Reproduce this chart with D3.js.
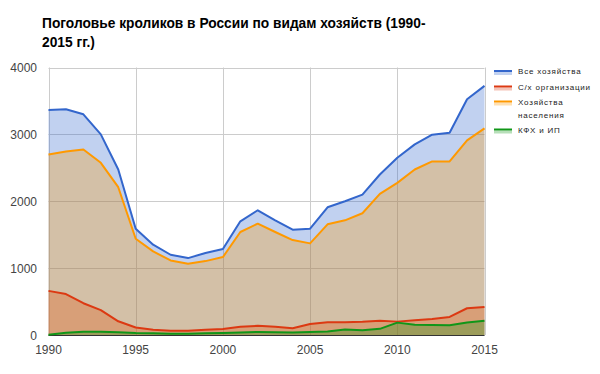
<!DOCTYPE html>
<html>
<head>
<meta charset="utf-8">
<script src="https://cdn.jsdelivr.net/npm/d3@7"></script>
<style>
  body { margin: 0; background: #fff; }
  text { font-family: Arial, "Liberation Sans", sans-serif; }
</style>
</head>
<body>
<div class="canvas"></div>
<script>
const years = d3.range(1990, 2016);

// поголовье, тыс. голов
const allFarms = [3365, 3375, 3300, 3000, 2475, 1590, 1350, 1200, 1150, 1225, 1285, 1700, 1865,
  1715, 1575, 1590, 1910, 2000, 2100, 2400, 2650, 2850, 2995, 3025, 3525, 3725];
const agroOrgs = [660, 612, 475, 372, 205, 112, 80, 65, 65, 78, 88, 122, 138,
  125, 100, 165, 190, 190, 198, 212, 200, 222, 240, 270, 400, 420];
const households = [2700, 2745, 2775, 2575, 2210, 1440, 1250, 1115, 1065, 1105, 1165, 1540, 1665,
  1540, 1420, 1370, 1655, 1715, 1820, 2110, 2275, 2475, 2595, 2595, 2910, 3090];
const kfh = [5, 32, 48, 48, 42, 30, 25, 20, 20, 25, 30, 38, 45,
  42, 38, 43, 52, 82, 72, 92, 185, 155, 148, 145, 188, 212];

const seriesNames = ["Все хозяйства", "С/х организации", "Хозяйства\nнаселения", "КФХ и ИП"];
const seriesColors = ["#3366cc", "#dc3912", "#ff9900", "#109618"];
const yTicks = [0, 1000, 2000, 3000, 4000];
const xTicks = [1990, 1995, 2000, 2005, 2010, 2015];

const series = [allFarms, agroOrgs, households, kfh].map((vals, i) => ({
  name: seriesNames[i],
  color: seriesColors[i],
  values: vals.map((v, j) => ({ year: years[j], v: v }))
}));

const svg = d3.select(".canvas").append("svg").attr("width", 600).attr("height", 374);

const x = d3.scaleLinear().domain([1990, 2015]).range([48.5, 484.5]);
const y = d3.scaleLinear().domain([0, 4000]).range([335, 67.5]);

// title
const title = svg.append("text")
  .attr("x", 42).attr("y", 27.5)
  .attr("font-size", 13.75).attr("font-weight", "bold").attr("fill", "#000");
title.append("tspan").attr("x", 42).attr("y", 27.5).text("Поголовье кроликов в России по видам хозяйств (1990-");
title.append("tspan").attr("x", 42).attr("y", 47).text("2015 гг.)");

// gridlines
svg.append("g").selectAll("line").data(yTicks).join("line")
  .attr("x1", x(1990)).attr("x2", x(2015))
  .attr("y1", d => Math.round(y(d)) + 0.5).attr("y2", d => Math.round(y(d)) + 0.5)
  .attr("stroke", "#cccccc");
svg.append("g").selectAll("line").data(xTicks).join("line")
  .attr("x1", d => Math.round(x(d)) + 0.5).attr("x2", d => Math.round(x(d)) + 0.5)
  .attr("y1", y(4000)).attr("y2", y(0))
  .attr("stroke", "#cccccc");

// axis labels
svg.append("g").selectAll("text").data(yTicks).join("text")
  .attr("x", 37).attr("y", d => y(d) + 4.5)
  .attr("text-anchor", "end").attr("font-size", 12).attr("fill", "#444")
  .text(d => d);
svg.append("g").selectAll("text").data(xTicks).join("text")
  .attr("x", d => x(d)).attr("y", 354)
  .attr("text-anchor", "middle").attr("font-size", 12).attr("fill", "#444")
  .text(d => d);

const area = d3.area().x(d => x(d.year)).y0(y(0)).y1(d => y(d.v));
const line = d3.line().x(d => x(d.year)).y(d => y(d.v));

// areas
svg.append("g").selectAll("path").data(series).join("path")
  .attr("d", d => area(d.values))
  .attr("fill", d => d.color).attr("fill-opacity", 0.3);

// baseline
svg.append("line")
  .attr("x1", x(1990)).attr("x2", x(2015))
  .attr("y1", y(0) + 0.5).attr("y2", y(0) + 0.5)
  .attr("stroke", "#333");

// lines
svg.append("g").selectAll("path").data(series).join("path")
  .attr("d", d => line(d.values))
  .attr("fill", "none").attr("stroke", d => d.color).attr("stroke-width", 2)
  .attr("stroke-linejoin", "round");

// legend
const legendY = [71, 86.5, 101.5, 129.5];
const legend = svg.append("g").selectAll("g").data(series).join("g")
  .attr("transform", (d, i) => `translate(494, ${legendY[i]})`);
legend.append("rect")
  .attr("x", 0).attr("y", 1).attr("width", 18).attr("height", 3)
  .attr("fill", d => d.color).attr("fill-opacity", 0.3);
legend.append("line")
  .attr("x1", 0).attr("x2", 18).attr("y1", 0).attr("y2", 0)
  .attr("stroke", d => d.color).attr("stroke-width", 2);
legend.append("text")
  .attr("x", 24).attr("y", 3)
  .attr("font-size", 8).attr("letter-spacing", 0.8).attr("fill", "#222")
  .selectAll("tspan").data(d => d.name.split("\n")).join("tspan")
  .attr("x", 24).attr("dy", (d, i) => i ? 13.5 : 0)
  .text(d => d);
</script>
</body>
</html>
